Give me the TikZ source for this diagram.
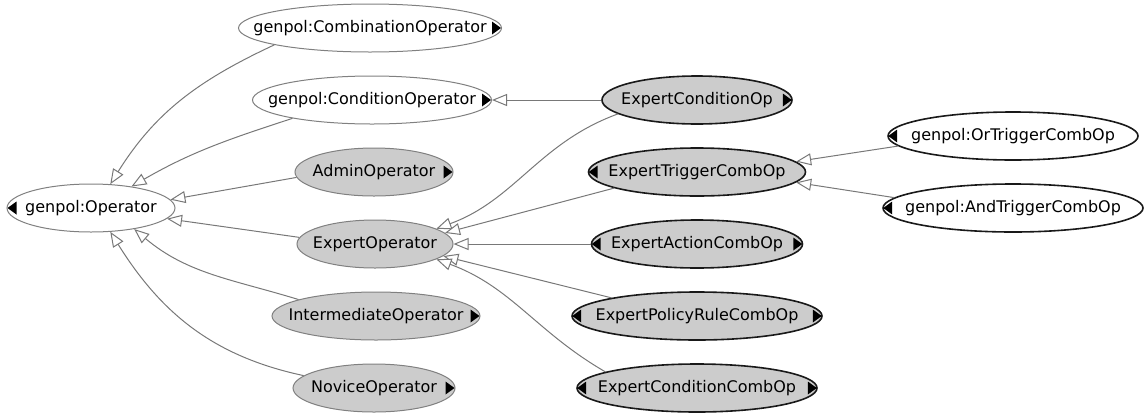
\documentclass[tikz,border=0pt]{standalone}
\usepackage{fontspec}
\setmainfont{DejaVu Sans}
\usetikzlibrary{shapes.geometric,arrows.meta}
\definecolor{fillgray}{RGB}{204,204,204}
\definecolor{rimgray}{RGB}{128,128,128}
\definecolor{rimdark}{RGB}{25,25,25}
\definecolor{edgegray}{RGB}{120,120,120}
\newcommand{\lbl}[1]{\makebox[0pt]{#1}}
\begin{document}
\begin{tikzpicture}[x=1pt, y=1pt,
  cls/.style={ellipse, minimum height=48pt, inner sep=0pt, font=\fontsize{16}{19}\selectfont},
  plainwhite/.style={cls, fill=white, draw=rimgray, line width=1pt},
  plaingray/.style={cls, fill=fillgray, draw=rimgray, line width=1pt},
  boldwhite/.style={cls, fill=white, draw=rimdark, line width=1.6pt},
  boldgray/.style={cls, fill=fillgray, draw=rimdark, line width=1.6pt},
  expander/.style={fill=black},
  isa/.style={draw=edgegray, line width=1pt, -{Triangle[length=15pt, width=12pt, fill=white, line width=1pt]}}]
  \useasboundingbox (0,0) rectangle (1147,-413);
  % root
  \node[plainwhite, minimum width=168pt] (op) at (91,-208) {\lbl{genpol:Operator}};
  % middle column
  \node[plainwhite, minimum width=263pt] (comb) at (370,-28) {\lbl{genpol:CombinationOperator}};
  \node[plainwhite, minimum width=239pt] (cond) at (372,-100) {\lbl{genpol:ConditionOperator}};
  \node[plaingray, minimum width=158pt] (admin) at (374,-172) {\lbl{AdminOperator}};
  \node[plaingray, minimum width=156pt] (expert) at (375,-244) {\lbl{ExpertOperator}};
  \node[plaingray, minimum width=208pt] (inter) at (376,-316) {\lbl{IntermediateOperator}};
  \node[plaingray, minimum width=162pt] (novice) at (374,-388) {\lbl{NoviceOperator}};
  % right column
  \node[boldgray, minimum width=190pt] (econd) at (697,-100) {\lbl{ExpertConditionOp}};
  \node[boldgray, minimum width=217pt] (etrig) at (697,-172) {\lbl{ExpertTriggerCombOp}};
  \node[boldgray, minimum width=211pt] (eact) at (697,-244) {\lbl{ExpertActionCombOp}};
  \node[boldgray, minimum width=250pt] (erule) at (697,-316) {\lbl{ExpertPolicyRuleCombOp}};
  \node[boldgray, minimum width=240pt] (ecc) at (697,-388) {\lbl{ExpertConditionCombOp}};
  % trigger subclasses
  \node[boldwhite, minimum width=250pt] (ortr) at (1013,-136) {\lbl{genpol:OrTriggerCombOp}};
  \node[boldwhite, minimum width=260pt] (andtr) at (1013,-208) {\lbl{genpol:AndTriggerCombOp}};
  % expand markers
  \foreach \n in {comb,cond,admin,inter,novice,econd,eact,erule,ecc}
    \fill[expander] (\n.east) ++(-1pt,0) -- ++(-9pt,6.5pt) -- ++(0,-13pt) -- cycle;
  \foreach \n in {op,etrig,eact,erule,ecc,ortr,andtr}
    \fill[expander] (\n.west) ++(1pt,0) -- ++(9pt,6.5pt) -- ++(0,-13pt) -- cycle;
  % subclass links into genpol:Operator
  \draw[isa] (comb.190) to[out=205, in=58] (op.51);
  \draw[isa] (cond.193) to[out=198, in=30] (op.28);
  \draw[isa] (admin.184) -- (op.6);
  \draw[isa] (expert.175) -- (op.352);
  \draw[isa] (inter.168) to[out=163, in=-40] (op.334);
  \draw[isa] (novice.170) to[out=168, in=-58] (op.309);
  % links from the right column
  \draw[isa] (econd) -- (cond);
  \draw[isa] (econd.190) to[out=200, in=20] (expert.14);
  \draw[isa] (etrig.191) -- (expert.9);
  \draw[isa] (eact) -- (expert);
  \draw[isa] (erule.168) -- (expert.350);
  \draw[isa] (ecc.170) to[out=150, in=-20] (expert.346);
  % trigger links
  \draw[isa] (ortr.185) -- (etrig.6);
  \draw[isa] (andtr.175) -- (etrig.354);
\end{tikzpicture}
\end{document}
